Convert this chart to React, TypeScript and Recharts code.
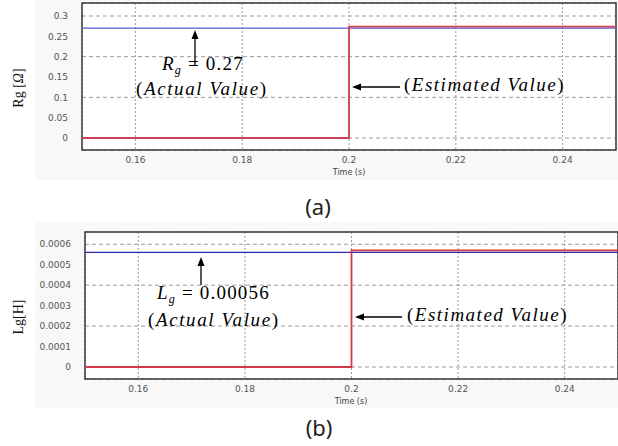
import React from 'react';
import { LineChart, Line, XAxis, YAxis, CartesianGrid, ReferenceArea } from 'recharts';

const timeSteps = [0.15, 0.2, 0.2, 0.25];
const rgEstimated = [0, 0, 0.274, 0.274];
const rgActual = [0.27, 0.27, 0.27, 0.27];
const lgEstimated = [0, 0, 0.00057, 0.00057];
const lgActual = [0.00056, 0.00056, 0.00056, 0.00056];
const timeTicks = [0.16, 0.18, 0.2, 0.22, 0.24];
const rgTicks = [0, 0.05, 0.1, 0.15, 0.2, 0.25, 0.3];
const lgTicks = [0, 0.0001, 0.0002, 0.0003, 0.0004, 0.0005, 0.0006];
const timeDomain: [number, number] = [0.15, 0.25];
const rgDomain: [number, number] = [-0.0295, 0.332];
const lgDomain: [number, number] = [-0.0000587, 0.00066];

const rgData = timeSteps.map((t, i) => ({ t, est: rgEstimated[i], act: rgActual[i] }));
const lgData = timeSteps.map((t, i) => ({ t, est: lgEstimated[i], act: lgActual[i] }));

const tickStyle = { fontFamily: 'DejaVu Sans', fontSize: 9, fill: '#555' };
const serif = 'Liberation Serif, Times New Roman, serif';

type PanelProps = {
  data: { t: number; est: number; act: number }[];
  yTicks: number[];
  yDomain: [number, number];
  width: number;
  height: number;
  margin: { top: number; right: number; bottom: number; left: number };
  yWidth: number;
  actColor: string;
  estColor: string;
};

function Panel(p: PanelProps) {
  return (
    <LineChart width={p.width} height={p.height} data={p.data} margin={p.margin}>
      <CartesianGrid vertical={false} stroke="#9a9a9a" strokeDasharray="4 3" />
      <CartesianGrid horizontal={false} stroke="#9a9a9a" strokeDasharray="2 2" />
      <XAxis
        dataKey="t"
        type="number"
        domain={timeDomain}
        ticks={timeTicks}
        allowDataOverflow
        axisLine={false}
        tickLine={false}
        tickSize={0}
        tickMargin={7}
        height={30}
        tick={tickStyle}
      />
      <YAxis
        type="number"
        domain={p.yDomain}
        ticks={p.yTicks}
        allowDataOverflow
        axisLine={false}
        tickLine={false}
        tickSize={0}
        tickMargin={14}
        width={p.yWidth}
        tick={tickStyle}
      />
      <Line dataKey="act" type="linear" stroke={p.actColor} strokeWidth={1.3} dot={false} isAnimationActive={false} />
      <Line dataKey="est" type="linear" stroke={p.estColor} strokeWidth={1.8} dot={false} isAnimationActive={false} />
      <ReferenceArea
        x1={timeDomain[0]}
        x2={timeDomain[1]}
        y1={p.yDomain[0]}
        y2={p.yDomain[1]}
        fill="none"
        stroke="#3a3a3a"
        strokeWidth={1.5}
        ifOverflow="visible"
      />
    </LineChart>
  );
}

function UpArrow({ x, y1, y2 }: { x: number; y1: number; y2: number }) {
  return (
    <g>
      <line x1={x} y1={y1} x2={x} y2={y2 + 7} stroke="#000" strokeWidth={1.3} />
      <polygon points={`${x},${y2} ${x - 3.5},${y2 + 9} ${x + 3.5},${y2 + 9}`} fill="#000" />
    </g>
  );
}

function LeftArrow({ y, x1, x2 }: { y: number; x1: number; x2: number }) {
  return (
    <g>
      <line x1={x1} y1={y} x2={x2 + 7} y2={y} stroke="#000" strokeWidth={1.3} />
      <polygon points={`${x2},${y} ${x2 + 9},${y - 3.5} ${x2 + 9},${y + 3.5}`} fill="#000" />
    </g>
  );
}

export default function App() {
  return (
    <div style={{ position: 'absolute', left: 0, top: 0, width: 618, height: 446, background: '#fff', overflow: 'hidden' }}>
      <div style={{ position: 'absolute', left: 35, top: 0, width: 583, height: 180, background: '#f8f8f8' }} />
      <div style={{ position: 'absolute', left: 35, top: 222, width: 583, height: 186, background: '#f8f8f8' }} />
      <div style={{ position: 'absolute', left: 82, top: 3, width: 534, height: 147, background: '#fff' }} />
      <div style={{ position: 'absolute', left: 85, top: 232, width: 533, height: 147, background: '#fff' }} />
      <div style={{ position: 'absolute', left: 0, top: 0 }}>
        <Panel
          data={rgData}
          yTicks={rgTicks}
          yDomain={rgDomain}
          width={618}
          height={180}
          margin={{ top: 3, right: 2, bottom: 0, left: 0 }}
          yWidth={82}
          actColor="#5a5ad0"
          estColor="#cc4258"
        />
      </div>
      <div style={{ position: 'absolute', left: 0, top: 220 }}>
        <Panel
          data={lgData}
          yTicks={lgTicks}
          yDomain={lgDomain}
          width={619}
          height={189}
          margin={{ top: 12, right: 1, bottom: 0, left: 0 }}
          yWidth={85}
          actColor="#2a2aa8"
          estColor="#d43848"
        />
      </div>
      <svg width={618} height={446} style={{ position: 'absolute', left: 0, top: 0, pointerEvents: 'none' }}>
        <text x={349} y={175} textAnchor="middle" fontFamily="DejaVu Sans" fontSize={8} fill="#444">Time (s)</text>
        <text x={351} y={404} textAnchor="middle" fontFamily="DejaVu Sans" fontSize={8} fill="#444">Time (s)</text>

        <text transform="translate(23,88) rotate(-90)" textAnchor="middle" fontFamily={serif} fontSize={14} fill="#111">
          Rg [<tspan fontStyle="italic">Ω</tspan>]
        </text>
        <text transform="translate(23,317) rotate(-90)" textAnchor="middle" fontFamily={serif} fontSize={14} fill="#111">
          Lg[H]
        </text>

        <UpArrow x={195} y1={65} y2={30} />
        <text x={162} y={70} fontFamily={serif} fontSize={19} fill="#000" letterSpacing={1.2}>
          <tspan fontStyle="italic">R</tspan>
          <tspan fontStyle="italic" fontSize={12} dy={4}>g</tspan>
          <tspan dy={-4}> = 0.27</tspan>
        </text>
        <text x={136} y={95} fontFamily={serif} fontSize={19} fill="#000" letterSpacing={1.6}>
          (<tspan fontStyle="italic">Actual Value</tspan>)
        </text>
        <LeftArrow y={87} x1={400} x2={352} />
        <text x={404} y={91} fontFamily={serif} fontSize={19} fill="#000" letterSpacing={1.5}>
          (<tspan fontStyle="italic">Estimated Value</tspan>)
        </text>

        <UpArrow x={201} y1={285} y2={257} />
        <text x={157} y={299} fontFamily={serif} fontSize={19} fill="#000" letterSpacing={1.2}>
          <tspan fontStyle="italic">L</tspan>
          <tspan fontStyle="italic" fontSize={12} dy={4}>g</tspan>
          <tspan dy={-4}> = 0.00056</tspan>
        </text>
        <text x={148} y={326} fontFamily={serif} fontSize={19} fill="#000" letterSpacing={1.6}>
          (<tspan fontStyle="italic">Actual Value</tspan>)
        </text>
        <LeftArrow y={317} x1={402} x2={355} />
        <text x={407} y={321} fontFamily={serif} fontSize={19} fill="#000" letterSpacing={1.5}>
          (<tspan fontStyle="italic">Estimated Value</tspan>)
        </text>

        <text x={318} y={215} textAnchor="middle" fontFamily="Noto Sans" fontSize={22} fill="#222">(a)</text>
        <text x={319} y={436} textAnchor="middle" fontFamily="Noto Sans" fontSize={22} fill="#222">(b)</text>
      </svg>
    </div>
  );
}
